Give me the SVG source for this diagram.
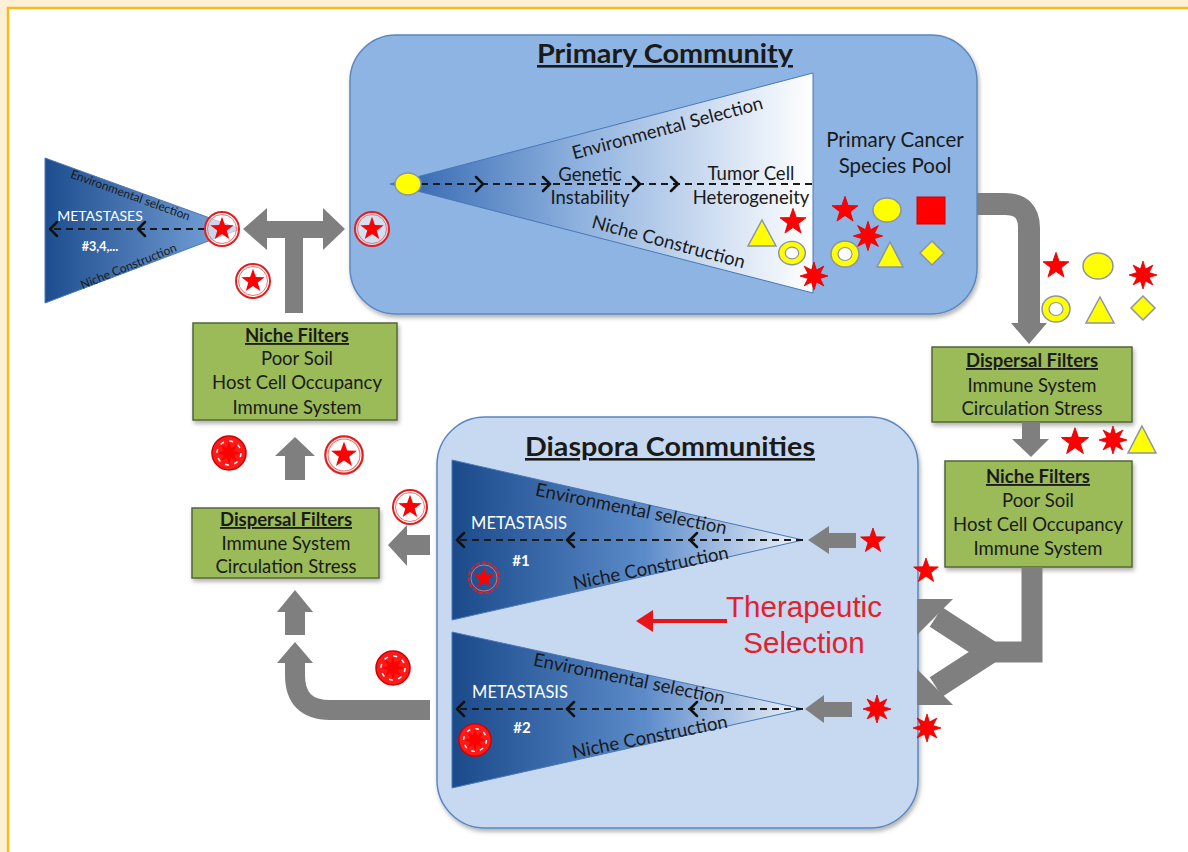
<svg xmlns="http://www.w3.org/2000/svg" xmlns:xlink="http://www.w3.org/1999/xlink" width="1188" height="852" viewBox="0 0 1188 852">
<defs>
<style>
.t{font-family:Lato,"Open Sans","Liberation Sans",sans-serif;fill:#1a1a1a}
.box{fill:#9bbb59;stroke:#56663a;stroke-width:1.5}
.bt{font-size:18.5px;text-anchor:middle}
.bh{font-weight:bold;text-decoration:underline}
.gray{fill:#7f7f7f}
.gs{stroke:#7f7f7f;fill:none}
.dash{stroke:#1a1a1a;stroke-width:2;stroke-dasharray:7 5;fill:none}
.chev{stroke:#111;stroke-width:2.5;fill:none;stroke-linecap:round;stroke-linejoin:round}
.red{fill:#ff0000;stroke:#e00000;stroke-width:0.8}
.yel{fill:#ffff00;stroke:#8a94a8;stroke-width:1.5}
.wt{fill:#ffffff;font-family:Lato,"Open Sans","Liberation Sans",sans-serif}
.tri{stroke:#4a78b8;stroke-width:1}
.rt{font-size:18.5px;text-anchor:middle}
</style>
<linearGradient id="gP" gradientUnits="userSpaceOnUse" x1="390" y1="0" x2="813" y2="0">
<stop offset="0" stop-color="#2d62ad"/><stop offset="0.45" stop-color="#8fb2df"/><stop offset="1" stop-color="#ffffff"/>
</linearGradient>
<linearGradient id="gD" x1="0" y1="0" x2="1" y2="0">
<stop offset="0" stop-color="#1a4a8a"/><stop offset="0.55" stop-color="#5c8bca"/><stop offset="1" stop-color="#eef3fa"/>
</linearGradient>
<linearGradient id="gL" x1="0" y1="0" x2="1" y2="0">
<stop offset="0" stop-color="#1e4d8f"/><stop offset="1" stop-color="#7eaadf"/>
</linearGradient>
<filter id="sh" x="-10%" y="-10%" width="120%" height="130%"><feDropShadow dx="1.5" dy="3" stdDeviation="2" flood-color="#000" flood-opacity="0.3"/></filter>
<path id="star" d="M0,-13L3.06,-4.21L12.36,-4.02L4.95,1.61L7.64,10.52L0,5.2L-7.64,10.52L-4.95,1.61L-12.36,-4.02L-3.06,-4.21Z"/>
<path id="burst" d="M0,-14L2.49,-6.01L9.9,-9.9L6.01,-2.49L14,0L6.01,2.49L9.9,9.9L2.49,6.01L0,14L-2.49,6.01L-9.9,9.9L-6.01,2.49L-14,0L-6.01,-2.49L-9.9,-9.9L-2.49,-6.01Z"/>
<g id="ring"><ellipse rx="14" ry="13" class="yel"/><ellipse rx="7" ry="6.5" fill="#ffffff" stroke="#8a94a8" stroke-width="1.2"/></g>
<g id="cstar"><circle r="17" fill="#ffffff" fill-opacity="0.6" stroke="#e02020" stroke-width="2"/><circle r="14.5" fill="none" stroke="#f07070" stroke-width="1"/><use xlink:href="#star" fill="#ff0000" transform="scale(0.95)"/></g>
<g id="cstar2"><circle r="17" fill="none" stroke="#e02020" stroke-width="2" stroke-dasharray="5 2"/><circle r="14.5" fill="none" stroke="#f07070" stroke-width="1"/><use xlink:href="#star" fill="#ff0000" transform="scale(0.95)"/></g>
<g id="cburst"><circle r="17" fill="#ff1a1a" stroke="#d00000" stroke-width="1.5"/><circle r="12" fill="none" stroke="#ffffff" stroke-width="1.5" stroke-dasharray="4 5.4"/><use xlink:href="#burst" fill="#ff0000" transform="scale(0.85)"/></g>
</defs>

<rect x="0" y="0" width="1188" height="852" fill="#fdf0d6"/>
<rect x="8" y="8" width="1200" height="870" fill="#ffffff" stroke="#f3bd1e" stroke-width="2.5"/>

<g id="primary-community">
<rect x="350" y="35" width="627" height="279" rx="46" ry="46" fill="#8db4e2" stroke="#5b87c0" stroke-width="1.5" filter="url(#sh)"/>
<text class="t" x="665" y="63" font-size="26" font-weight="bold" text-anchor="middle" text-decoration="underline" textLength="256" lengthAdjust="spacingAndGlyphs">Primary Community</text>
<polygon class="tri" points="390,184 813,73 813,293" fill="url(#gP)"/>
<line class="dash" x1="421" y1="184" x2="812" y2="184"/>
<path class="chev" d="M476,177L483,184L476,191M543,177L550,184L543,191M633,177L640,184L633,191M671,177L678,184L671,191"/>
<ellipse cx="408" cy="184" rx="13" ry="11" class="yel"/>
<text class="t rt" transform="translate(669,134) rotate(-15)">Environmental Selection</text>
<text class="t rt" transform="translate(667,248) rotate(15)">Niche Construction</text>
<text class="t rt" x="590" y="181">Genetic</text>
<text class="t rt" x="590" y="204">Instability</text>
<text class="t rt" x="751" y="180">Tumor Cell</text>
<text class="t rt" x="751" y="204">Heterogeneity</text>
<polygon class="yel" points="762,220 776,246 748,246"/>
<use xlink:href="#star" class="red" transform="translate(793,222) scale(1.05)"/>
<use xlink:href="#ring" transform="translate(792,253) scale(0.95,0.9)"/>
<use xlink:href="#burst" class="red" transform="translate(814,276)"/>
<text class="t" x="895" y="147" font-size="20.5" text-anchor="middle">Primary Cancer</text>
<text class="t" x="895" y="173" font-size="20.5" text-anchor="middle">Species Pool</text>
<use xlink:href="#star" class="red" transform="translate(845,210) scale(1.05)"/>
<ellipse cx="887" cy="210" rx="14" ry="12" class="yel"/>
<rect x="917" y="197" width="28" height="27" fill="#ff0000" stroke="#d00000" stroke-width="1"/>
<use xlink:href="#burst" class="red" transform="translate(868,236) scale(1.05)"/>
<use xlink:href="#ring" transform="translate(845,254)"/>
<polygon class="yel" points="890,242 903,267 877,267"/>
<polygon class="yel" points="932,241 944,253 932,265 920,253"/>
</g>

<g id="metastases-3-4">
<polygon class="tri" points="45,158 240,229 45,303" fill="url(#gL)"/>
<line class="dash" x1="205" y1="229" x2="50" y2="229"/>
<path class="chev" d="M57,222L50,229L57,236M145,222L138,229L145,236"/>
<text class="t" font-size="12" text-anchor="middle" transform="translate(129,199) rotate(20)">Environmental selection</text>
<text class="t" font-size="12" text-anchor="middle" transform="translate(130,270) rotate(-22)">Niche Construction</text>
<text class="wt" x="100" y="221" font-size="14" text-anchor="middle">METASTASES</text>
<text class="wt" x="100" y="251" font-size="12.5" font-weight="bold" text-anchor="middle">#3,4,...</text>
<use xlink:href="#cstar" transform="translate(222,229)"/>
</g>

<g id="niche-filters-left">
<rect class="box" x="193" y="323" width="204" height="97" filter="url(#sh)"/>
<text class="t bt bh" x="297" y="342">Niche Filters</text>
<text class="t bt" x="297" y="365">Poor Soil</text>
<text class="t bt" x="297" y="389">Host Cell Occupancy</text>
<text class="t bt" x="297" y="414">Immune System</text>
</g>

<g id="dispersal-filters-left">
<rect class="box" x="192" y="508" width="187" height="70" filter="url(#sh)"/>
<text class="t bt bh" x="286" y="526">Dispersal Filters</text>
<text class="t bt" x="286" y="550">Immune System</text>
<text class="t bt" x="286" y="573">Circulation Stress</text>
</g>

<g id="dispersal-filters-right">
<rect class="box" x="932" y="347" width="200" height="75" filter="url(#sh)"/>
<text class="t bt bh" x="1032" y="367">Dispersal Filters</text>
<text class="t bt" x="1032" y="392">Immune System</text>
<text class="t bt" x="1032" y="415">Circulation Stress</text>
</g>

<g id="niche-filters-right">
<rect class="box" x="945" y="461" width="187" height="106" filter="url(#sh)"/>
<text class="t bt bh" x="1038" y="483">Niche Filters</text>
<text class="t bt" x="1038" y="507">Poor Soil</text>
<text class="t bt" x="1038" y="531">Host Cell Occupancy</text>
<text class="t bt" x="1038" y="555">Immune System</text>
</g>

<g id="diaspora-communities">
<rect x="437" y="417" width="481" height="411" rx="48" ry="48" fill="#c6d9f1" stroke="#5b87c0" stroke-width="1.5" filter="url(#sh)"/>
<text class="t" x="670" y="456" font-size="26" font-weight="bold" text-anchor="middle" text-decoration="underline" textLength="290" lengthAdjust="spacingAndGlyphs">Diaspora Communities</text>
<g id="metastasis-1">
<polygon class="tri" points="452,460 803,540 452,620" fill="url(#gD)"/>
<line class="dash" x1="803" y1="540" x2="457" y2="540"/>
<path class="chev" d="M464,533L457,540L464,547M574,533L567,540L574,547M697,533L690,540L697,547"/>
<text class="t rt" transform="translate(630,515) rotate(11.5)">Environmental selection</text>
<text class="t rt" transform="translate(652,574) rotate(-11.3)">Niche Construction</text>
<text class="wt" x="519" y="529" font-size="16.5" text-anchor="middle">METASTASIS</text>
<text class="wt" x="521" y="566" font-size="15" font-weight="bold" text-anchor="middle">#1</text>
<use xlink:href="#cstar2" transform="translate(484,578) scale(0.9)"/>
</g>
<g id="metastasis-2">
<polygon class="tri" points="452,632 803,709 452,788" fill="url(#gD)"/>
<line class="dash" x1="803" y1="709" x2="457" y2="709"/>
<path class="chev" d="M464,702L457,709L464,716M574,702L567,709L574,716M697,702L690,709L697,716"/>
<text class="t rt" transform="translate(628,685) rotate(11.5)">Environmental selection</text>
<text class="t rt" transform="translate(651,743) rotate(-11.3)">Niche Construction</text>
<text class="wt" x="520" y="698" font-size="16.5" text-anchor="middle">METASTASIS</text>
<text class="wt" x="522" y="733" font-size="15" font-weight="bold" text-anchor="middle">#2</text>
<use xlink:href="#cburst" transform="translate(475,740) scale(0.95)"/>
</g>
<text x="804" y="617" font-family="'Liberation Sans',Arial,sans-serif" font-size="29.5" fill="#e3202b" text-anchor="middle">Therapeutic</text>
<text x="804" y="653" font-family="'Liberation Sans',Arial,sans-serif" font-size="29.5" fill="#e3202b" text-anchor="middle">Selection</text>
</g>

<g id="connectors">
<path class="gs" stroke-width="22" d="M977,204H1005Q1029,204 1029,228V324"/>
<polygon class="gray" points="1011,323 1047,323 1029,344"/>
<rect class="gray" x="1022" y="422" width="18" height="18"/>
<polygon class="gray" points="1012,439 1049,439 1031,457"/>
<path class="gs" stroke-width="21" stroke-linejoin="miter" d="M1032,567V652H980"/>
<path class="gs" stroke-width="23" d="M990,652L936,617M990,652L936,687"/>
<polygon class="gray" points="917,599 953,599 917,635"/>
<polygon class="gray" points="917,705 953,705 917,669"/>
<rect class="gray" x="828" y="533" width="28" height="15"/>
<polygon class="gray" points="808,540 829,526 829,554"/>
<rect class="gray" x="822" y="702" width="30" height="15"/>
<polygon class="gray" points="805,709 824,695 824,723"/>
<rect class="gray" x="405" y="535" width="25" height="20"/>
<polygon class="gray" points="388,545 407,525 407,566"/>
<path class="gs" stroke-width="20" d="M430,710H330Q295,710 295,675V661"/>
<polygon class="gray" points="277,663 295,642 313,663"/>
<rect class="gray" x="285" y="610" width="20" height="25"/>
<polygon class="gray" points="277,612 295,590 313,612"/>
<rect class="gray" x="285" y="453" width="20" height="27"/>
<polygon class="gray" points="275,456 295,437 315,456"/>
<rect class="gray" x="265" y="221" width="60" height="17"/>
<polygon class="gray" points="243,229 267,208 267,250"/>
<polygon class="gray" points="345,229 323,208 323,250"/>
<rect class="gray" x="285" y="236" width="18" height="77"/>
<line x1="727" y1="621" x2="648" y2="621" stroke="#e8141c" stroke-width="4"/>
<polygon points="636,621 653,610 653,632" fill="#e8141c"/>
</g>

<g id="cells">
<use xlink:href="#cstar" transform="translate(372,229)"/>
<use xlink:href="#cstar" transform="translate(253,281)"/>
<use xlink:href="#cburst" transform="translate(229,453)"/>
<use xlink:href="#cstar" transform="translate(344,455) scale(1.1)"/>
<use xlink:href="#cstar" transform="translate(410,507)"/>
<use xlink:href="#cburst" transform="translate(393,668)"/>
<use xlink:href="#star" class="red" transform="translate(1056,266) scale(1.05)"/>
<ellipse cx="1098" cy="266" rx="15" ry="13" class="yel"/>
<use xlink:href="#burst" class="red" transform="translate(1143,275)"/>
<use xlink:href="#ring" transform="translate(1056,309)"/>
<polygon class="yel" points="1100,297 1114,323 1086,323"/>
<polygon class="yel" points="1143,296 1155,308 1143,320 1131,308"/>
<use xlink:href="#star" class="red" transform="translate(1075,442) scale(1.1)"/>
<use xlink:href="#burst" class="red" transform="translate(1113,440)"/>
<polygon class="yel" points="1142,426 1156,453 1128,453"/>
<use xlink:href="#star" class="red" transform="translate(873,541)"/>
<use xlink:href="#burst" class="red" transform="translate(877,709)"/>
<use xlink:href="#star" class="red" transform="translate(926,571)"/>
<use xlink:href="#burst" class="red" transform="translate(927,728)"/>
</g>
</svg>
